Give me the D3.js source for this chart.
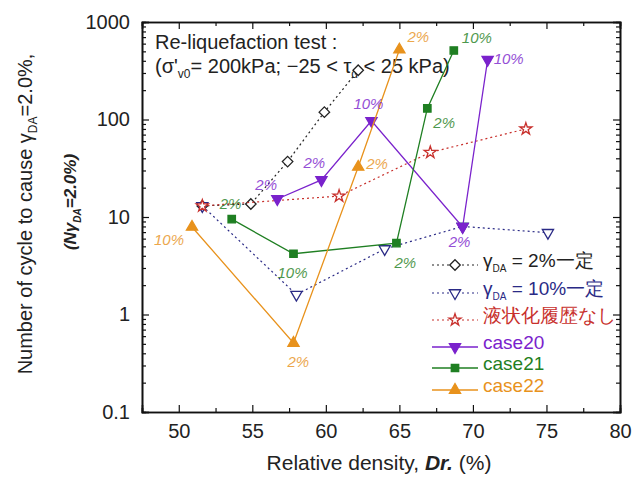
<!DOCTYPE html>
<html>
<head>
<meta charset="utf-8">
<script src="https://cdn.jsdelivr.net/npm/d3@7"></script>
<style>
  body { margin: 0; background: #fff; }
  svg { font-family: "Liberation Sans", Arial, sans-serif; }
</style>
</head>
<body>
<svg id="chart" width="638" height="477"></svg>
<script>
// Dr (%) and cycle counts
const const2Dr = [51.6, 54.9, 57.4, 59.9, 62.2];
const const2N = [13.0, 13.6, 37, 119, 320];
const const10Dr = [51.6, 58.0, 64.0, 69.3, 75.1];
const const10N = [13.0, 1.6, 4.7, 8.0, 6.9];
const noHistDr = [51.6, 60.9, 67.1, 73.6];
const noHistN = [13.0, 16.4, 46, 80];
const case20Dr = [56.7, 59.7, 63.1, 69.3, 71.0];
const case20N = [15.3, 24, 97, 7.9, 410];
const case20Lab = ["2%", "2%", "10%", "2%", "10%"];
const case21Dr = [53.6, 57.8, 64.8, 66.9, 68.7];
const case21N = [9.5, 4.2, 5.4, 130, 510];
const case21Lab = ["2%", "10%", "2%", "2%", "10%"];
const case22Dr = [50.9, 57.8, 62.2, 65.0];
const case22N = [7.9, 0.51, 32.6, 520];
const case22Lab = ["10%", "2%", "2%", "2%"];

const xTicks = [50, 55, 60, 65, 70, 75, 80];
const yTicks = [0.1, 1, 10, 100, 1000];

const margin = { top: 22, left: 142, right: 18, bottom: 65 };
const svg = d3.select("#chart");
const W = 638, H = 477;
const x = d3.scaleLinear().domain([47.5, 80]).range([margin.left, W - margin.right]);
const y = d3.scaleLog().domain([0.1, 1000]).range([H - margin.bottom, margin.top]);

const purple = "#7a22cc", green = "#1f7f22", orange = "#e8921c", red = "#c8302c", navy = "#2a2a86";

// axes with inward ticks
const minorX = d3.range(47.5, 80.01, 2.5).filter(v => v % 5 !== 0);
const minorY = [];
[0.1, 1, 10, 100].forEach(d => { for (let k = 2; k < 10; k++) minorY.push(d * k); });

const gx = svg.append("g").attr("transform", `translate(0,${y.range()[0]})`);
gx.call(d3.axisBottom(x).tickValues(xTicks).tickSize(-7).tickPadding(12).tickFormat(d3.format("d")));
gx.append("g").call(d3.axisBottom(x).tickValues(minorX).tickSize(-4).tickFormat(""));
const gxt = svg.append("g").attr("transform", `translate(0,${margin.top})`);
gxt.call(d3.axisTop(x).tickValues(xTicks).tickSize(-7).tickFormat(""));
gxt.append("g").call(d3.axisTop(x).tickValues(minorX).tickSize(-4).tickFormat(""));
const gy = svg.append("g").attr("transform", `translate(${margin.left},0)`);
gy.call(d3.axisLeft(y).tickValues(yTicks).tickSize(-7).tickPadding(12).tickFormat(d => d3.format("")(d)));
gy.append("g").call(d3.axisLeft(y).tickValues(minorY).tickSize(-4).tickFormat(""));
const gyr = svg.append("g").attr("transform", `translate(${W - margin.right},0)`);
gyr.call(d3.axisRight(y).tickValues(yTicks).tickSize(-7).tickFormat(""));
gyr.append("g").call(d3.axisRight(y).tickValues(minorY).tickSize(-4).tickFormat(""));
svg.selectAll(".domain").attr("stroke", "#111").attr("stroke-width", 1.6);
svg.selectAll(".tick line").attr("stroke", "#111").attr("stroke-width", 1.2);
svg.selectAll(".tick text").attr("font-size", 20).attr("fill", "#222").attr("font-family", "Liberation Sans, Arial, sans-serif");

// annotation
const ann = svg.append("g").attr("font-size", 20).attr("fill", "#222");
ann.append("rect").attr("x", 152).attr("y", 29).attr("width", 315).attr("height", 50).attr("fill", "#fff").attr("opacity", 0.85);
ann.append("text").attr("x", 155).attr("y", 49).text("Re-liquefaction test :");
const t2 = ann.append("text").attr("x", 155).attr("y", 73);
t2.append("tspan").text("(σ'");
t2.append("tspan").attr("font-size", 12).attr("dy", 5).text("v0");
t2.append("tspan").attr("dy", -5).text("= 200kPa; \u221225 < τ");
t2.append("tspan").attr("font-size", 12).attr("dy", 5).text("d");
t2.append("tspan").attr("dy", -5).text(" < 25 kPa)");

// marker shapes
const sym = {
  diamond: d3.symbol().type(d3.symbolDiamond2).size(70),
  tri: d3.symbol().type(d3.symbolTriangle2).size(90),
  star: d3.symbol().type(d3.symbolStar).size(45),
  square: d3.symbol().type(d3.symbolSquare2).size(70)
};

const series = [
  { dr: const2Dr, n: const2N, color: "#222", dash: "2,3", width: 1.2, shape: "diamond", fill: "#fff", rot: 0 },
  { dr: const10Dr, n: const10N, color: navy, dash: "2,3", width: 1.2, shape: "tri", fill: "#fff", rot: 180 },
  { dr: noHistDr, n: noHistN, color: red, dash: "2,3", width: 1.2, shape: "star", fill: "#fff", rot: 0 },
  { dr: case20Dr, n: case20N, color: purple, dash: null, width: 1.3, shape: "tri", fill: purple, rot: 180, lab: case20Lab },
  { dr: case21Dr, n: case21N, color: green, dash: null, width: 1.3, shape: "square", fill: green, rot: 0, lab: case21Lab },
  { dr: case22Dr, n: case22N, color: orange, dash: null, width: 1.3, shape: "tri", fill: orange, rot: 0, lab: case22Lab }
];

const line = d3.line().x(d => x(d[0])).y(d => y(d[1]));
series.forEach(s => {
  const pts = s.dr.map((d, i) => [d, s.n[i]]);
  svg.append("path").attr("d", line(pts)).attr("fill", "none")
    .attr("stroke", s.color).attr("stroke-width", s.width)
    .attr("stroke-dasharray", s.dash);
  svg.append("g").selectAll("path").data(pts).join("path")
    .attr("d", sym[s.shape]())
    .attr("transform", d => `translate(${x(d[0])},${y(d[1])}) rotate(${s.rot})`)
    .attr("fill", s.fill).attr("stroke", s.color).attr("stroke-width", 1.3);
});

// point labels (offsets per label)
const labOffsets = {
  3: [[-22, -9], [-18, -12], [-18, -12], [-14, 20], [6, 4]],
  4: [[-12, -10], [-16, 24], [-2, 25], [6, 20], [8, -8]],
  5: [[-38, 18], [-6, 24], [8, 2], [8, -8]]
};
series.forEach((s, si) => {
  if (!s.lab) return;
  svg.append("g").selectAll("text").data(s.lab).join("text")
    .attr("x", (d, i) => x(s.dr[i]) + labOffsets[si][i][0])
    .attr("y", (d, i) => y(s.n[i]) + labOffsets[si][i][1])
    .attr("font-size", 15).attr("font-style", "italic")
    .attr("fill", s.color).attr("opacity", 0.8)
    .text(d => d);
});

// legend
const legRows = [
  { si: 0, parts: [["γ", null], ["DA", "sub"], [" = 2%一定", null]] },
  { si: 1, parts: [["γ", null], ["DA", "sub"], [" = 10%一定", null]] },
  { si: 2, parts: [["液状化履歴なし", null]] },
  { si: 3, parts: [["case20", null]] },
  { si: 4, parts: [["case21", null]] },
  { si: 5, parts: [["case22", null]] }
];
const legY = [265, 293, 320, 347, 368, 390];
const leg = svg.append("g");
leg.append("rect").attr("x", 428).attr("y", 250).attr("width", 185).attr("height", 152).attr("fill", "#fff").attr("opacity", 0.8);
legRows.forEach((r, i) => {
  const s = series[r.si];
  const ly = legY[i];
  leg.append("line").attr("x1", 432).attr("x2", 478).attr("y1", ly).attr("y2", ly)
    .attr("stroke", s.color).attr("stroke-width", s.width).attr("stroke-dasharray", s.dash);
  leg.append("path").attr("d", sym[s.shape]())
    .attr("transform", `translate(455,${ly}) rotate(${s.rot})`)
    .attr("fill", s.fill).attr("stroke", s.color).attr("stroke-width", 1.3);
  const t = leg.append("text").attr("x", 483).attr("y", ly + 7).attr("font-size", 19).attr("fill", s.color);
  r.parts.forEach(p => {
    if (p[1] === "sub") t.append("tspan").attr("font-size", 10).attr("dy", 5).text(p[0]);
    else t.append("tspan").attr("dy", t.selectAll("tspan").size() ? -5 : 0).text(p[0]);
  });
});

// axis titles
const xl = svg.append("text").attr("x", 379).attr("y", 470).attr("text-anchor", "middle")
  .attr("font-size", 21).attr("fill", "#222");
xl.append("tspan").text("Relative density, ");
xl.append("tspan").attr("font-style", "italic").attr("font-weight", "bold").text("Dr.");
xl.append("tspan").text(" (%)");

const yl = svg.append("text").attr("transform", "translate(32,214) rotate(-90)")
  .attr("text-anchor", "middle").attr("font-size", 20).attr("fill", "#222");
yl.append("tspan").text("Number of cycle to cause γ");
yl.append("tspan").attr("font-size", 12).attr("dy", 5).text("DA");
yl.append("tspan").attr("dy", -5).text("=2.0%,");

const yl2 = svg.append("text").attr("transform", "translate(76,202) rotate(-90)")
  .attr("text-anchor", "middle").attr("font-size", 17).attr("fill", "#222")
  .attr("font-style", "italic").attr("font-weight", "bold");
yl2.append("tspan").text("(Nγ");
yl2.append("tspan").attr("font-size", 10).attr("dy", 5).text("DA");
yl2.append("tspan").attr("dy", -5).text("=2.0%)");
</script>
</body>
</html>
